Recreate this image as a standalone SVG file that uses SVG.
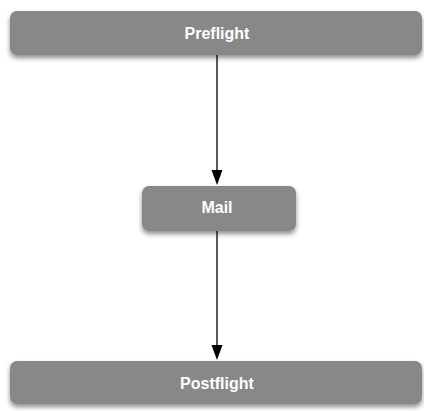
<svg xmlns="http://www.w3.org/2000/svg" width="424" height="411" viewBox="0 0 424 411">
<defs>
<filter id="sh" x="-10%" y="-30%" width="120%" height="170%">
<feDropShadow dx="0" dy="3" stdDeviation="2.5" flood-color="#000" flood-opacity="0.45"/>
</filter>
<marker id="ah" viewBox="0 0 12 15" refX="12" refY="6" markerWidth="15" markerHeight="12" markerUnits="userSpaceOnUse" orient="auto">
<path d="M0,0 L15,6 L0,12 z" fill="#000"/>
</marker>
</defs>
<style>
.box{fill:#888888;filter:url(#sh)}
.lbl{font-family:"Liberation Sans",Arial,sans-serif;font-size:16px;font-weight:bold;fill:#ffffff;text-anchor:middle}
.edge{stroke:#000;stroke-width:1.3;fill:none}
.head{fill:#000}
</style>
<rect width="424" height="411" fill="#fff"/>
<g id="connectors">
<line class="edge" x1="217" y1="55" x2="217" y2="172"/>
<path class="head" d="M211.5,170 L222.5,170 L217,185 z"/>
<line class="edge" x1="217" y1="231" x2="217" y2="347"/>
<path class="head" d="M211.5,345 L222.5,345 L217,360 z"/>
</g>
<g id="preflight">
<rect class="box" x="10" y="11" width="412" height="44" rx="7"/>
<text class="lbl" x="217" y="39">Preflight</text>
</g>
<g id="mail">
<rect class="box" x="142" y="186" width="154" height="45" rx="7"/>
<text class="lbl" x="217" y="213">Mail</text>
</g>
<g id="postflight">
<rect class="box" x="10" y="361" width="412" height="43" rx="7"/>
<text class="lbl" x="217" y="389">Postflight</text>
</g>
</svg>
